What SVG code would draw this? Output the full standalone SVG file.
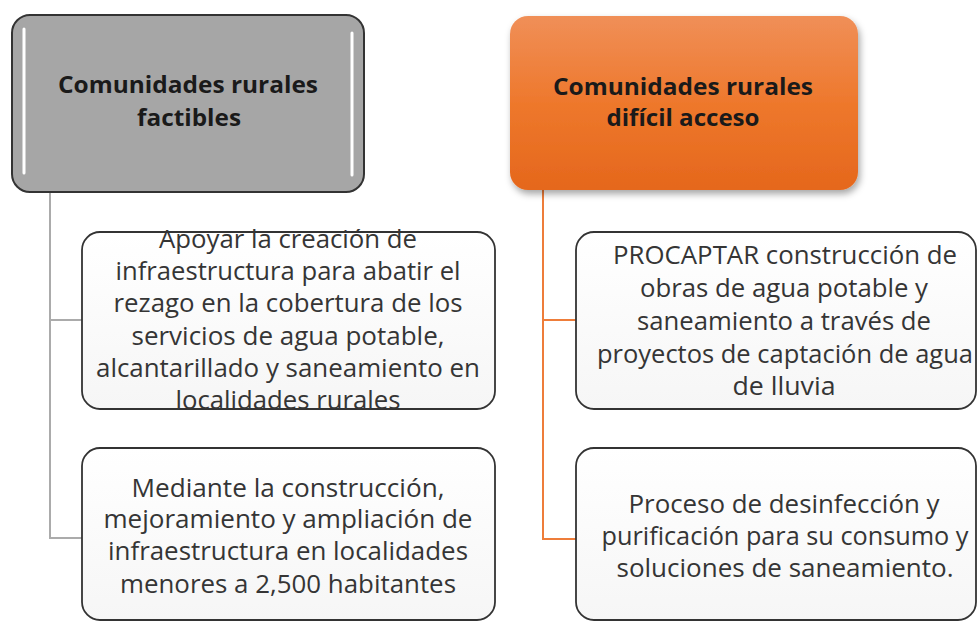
<svg xmlns="http://www.w3.org/2000/svg" width="978" height="622" viewBox="0 0 978 622">
  <defs>
    <linearGradient id="orangeGrad" x1="0" y1="0" x2="0" y2="1">
      <stop offset="0" stop-color="#f08f58"/>
      <stop offset="0.5" stop-color="#ee782c"/>
      <stop offset="1" stop-color="#e5671c"/>
    </linearGradient>
    <linearGradient id="childGrad" x1="0" y1="0" x2="0" y2="1">
      <stop offset="0" stop-color="#ffffff"/>
      <stop offset="1" stop-color="#f6f6f6"/>
    </linearGradient>
    <filter id="shadow" x="-10%" y="-10%" width="125%" height="130%">
      <feDropShadow dx="2" dy="4" stdDeviation="3.5" flood-color="#000" flood-opacity="0.35"/>
    </filter>
  </defs>
  <style>
    .hdr { font-family: "Open Sans", "Liberation Sans", sans-serif; font-weight: bold; font-size: 23px; fill: #1a1a1a; text-anchor: middle; }
    .txt { font-family: "Open Sans", "Liberation Sans", sans-serif; font-size: 25.5px; fill: #353535; text-anchor: middle; }
    .child { fill: url(#childGrad); stroke: #333333; stroke-width: 1.8; }
    .grayLine { fill: none; stroke: #ababab; stroke-width: 2; }
    .orangeLine { fill: none; stroke: #ee7d3a; stroke-width: 2; }
  </style>
  <rect width="978" height="622" fill="#ffffff"/>

  <g id="connectors">
    <path class="grayLine" d="M50,192 V538 H82 M50,320 H82"/>
    <path class="orangeLine" d="M543,190 V539 H576 M543,320 H576"/>
  </g>

  <g id="node-factibles">
    <rect x="12" y="15" width="352" height="177" rx="18" ry="18" fill="#a6a6a6" stroke="#333333" stroke-width="2"/>
    <line x1="24" y1="29" x2="24" y2="173" stroke="#ffffff" stroke-width="3" stroke-linecap="round"/>
    <line x1="352" y1="33" x2="352" y2="175" stroke="#ffffff" stroke-width="3" stroke-linecap="round"/>
    <text class="hdr" x="188" y="93" textLength="260" lengthAdjust="spacingAndGlyphs">Comunidades rurales</text>
    <text class="hdr" x="189" y="126" textLength="104" lengthAdjust="spacingAndGlyphs">factibles</text>
  </g>

  <g id="node-dificil">
    <rect x="510" y="16" width="348" height="174" rx="18" ry="18" fill="url(#orangeGrad)" filter="url(#shadow)"/>
    <text class="hdr" x="683" y="95" textLength="260" lengthAdjust="spacingAndGlyphs">Comunidades rurales</text>
    <text class="hdr" x="683" y="126" textLength="153" lengthAdjust="spacingAndGlyphs">difícil acceso</text>
  </g>

  <g id="node-apoyar">
    <rect class="child" x="82" y="232" width="413" height="177" rx="18" ry="18"/>
    <text class="txt" x="288" y="248" textLength="258" lengthAdjust="spacingAndGlyphs">Apoyar la creación de</text>
    <text class="txt" x="288" y="280" textLength="345" lengthAdjust="spacingAndGlyphs">infraestructura para abatir el</text>
    <text class="txt" x="288" y="312" textLength="349" lengthAdjust="spacingAndGlyphs">rezago en  la cobertura de los</text>
    <text class="txt" x="288" y="345" textLength="313" lengthAdjust="spacingAndGlyphs">servicios de agua potable,</text>
    <text class="txt" x="288" y="377" textLength="384" lengthAdjust="spacingAndGlyphs">alcantarillado y saneamiento en</text>
    <text class="txt" x="288" y="409" textLength="225" lengthAdjust="spacingAndGlyphs">localidades rurales</text>
  </g>

  <g id="node-mediante">
    <rect class="child" x="82" y="448" width="413" height="172" rx="18" ry="18"/>
    <text class="txt" x="288" y="497" textLength="313" lengthAdjust="spacingAndGlyphs">Mediante la construcción,</text>
    <text class="txt" x="288" y="528" textLength="369" lengthAdjust="spacingAndGlyphs">mejoramiento y ampliación de</text>
    <text class="txt" x="288" y="560" textLength="360" lengthAdjust="spacingAndGlyphs">infraestructura en localidades</text>
    <text class="txt" x="288" y="593" textLength="336" lengthAdjust="spacingAndGlyphs">menores a 2,500  habitantes</text>
  </g>

  <g id="node-procaptar">
    <rect class="child" x="576" y="232" width="400" height="177" rx="18" ry="18"/>
    <text class="txt" x="785" y="264" textLength="344" lengthAdjust="spacingAndGlyphs">PROCAPTAR construcción de</text>
    <text class="txt" x="784" y="297" textLength="288" lengthAdjust="spacingAndGlyphs">obras de agua potable y</text>
    <text class="txt" x="784" y="330" textLength="294" lengthAdjust="spacingAndGlyphs">saneamiento a través de</text>
    <text class="txt" x="785" y="363" textLength="376" lengthAdjust="spacingAndGlyphs">proyectos de captación de agua</text>
    <text class="txt" x="784" y="395" textLength="103" lengthAdjust="spacingAndGlyphs">de lluvia</text>
  </g>

  <g id="node-proceso">
    <rect class="child" x="576" y="448" width="400" height="172" rx="18" ry="18"/>
    <text class="txt" x="784" y="513" textLength="311" lengthAdjust="spacingAndGlyphs">Proceso de desinfección y</text>
    <text class="txt" x="785" y="545" textLength="367" lengthAdjust="spacingAndGlyphs">purificación para su consumo y</text>
    <text class="txt" x="785" y="577" textLength="337" lengthAdjust="spacingAndGlyphs">soluciones de saneamiento.</text>
  </g>
</svg>
